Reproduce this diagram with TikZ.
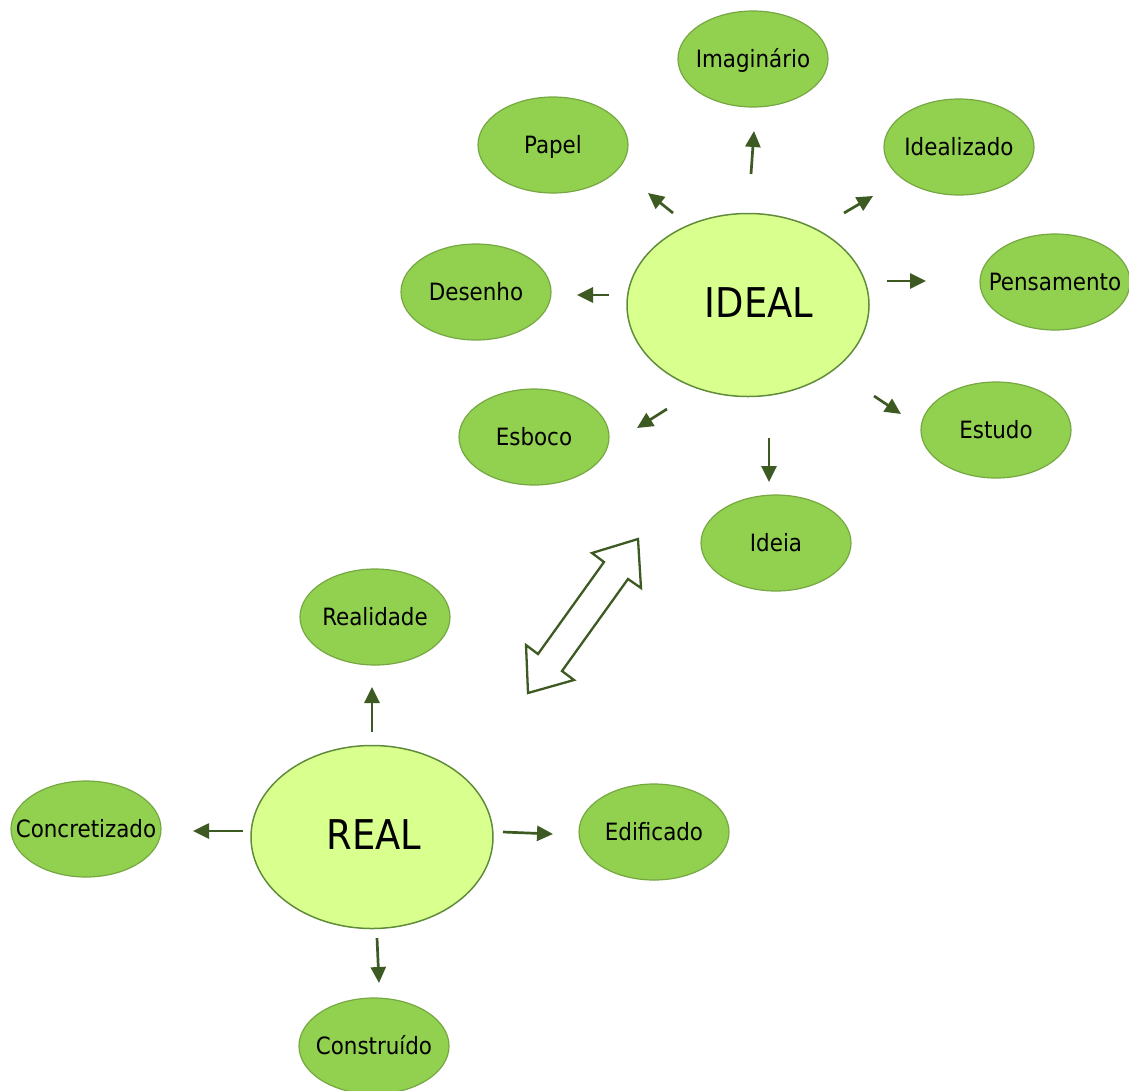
\documentclass[tikz,border=0pt]{standalone}
\usepackage{fontspec}
\newfontfamily\lblfont{DejaVu Sans Condensed}
\usetikzlibrary{shapes.geometric,arrows.meta,calc}
\definecolor{smallfill}{RGB}{146,208,80}
\definecolor{smallborder}{RGB}{118,168,66}
\definecolor{bigfill}{RGB}{217,255,143}
\definecolor{bigborder}{RGB}{96,140,58}
\definecolor{arrowgreen}{RGB}{62,90,35}
\newcommand{\zlbl}[1]{\makebox[0pt]{#1}}
\begin{document}
\begin{tikzpicture}[x=1pt,y=-1pt,
  smallnode/.style={ellipse, draw=smallborder, fill=smallfill, line width=1.2pt,
    minimum width=150pt, minimum height=96pt, inner sep=0pt,
    font=\lblfont\fontsize{23.8}{28}\selectfont, text height=17.3pt, text depth=0pt},
  bignode/.style={ellipse, draw=bigborder, fill=bigfill, line width=1.5pt,
    minimum width=242pt, minimum height=183pt, inner sep=0pt,
    font=\lblfont\fontsize{41}{48}\selectfont, text height=30pt, text depth=6pt},
  arr/.style={draw=arrowgreen, line width=2.7pt, -{Triangle[length=16pt,width=15pt]}},
  blockarrow/.style={draw=arrowgreen, fill=white, line width=2.3pt, line join=miter}
]
\useasboundingbox (0,0) rectangle (1129,1090);

% main nodes
\node[bignode] (ideal) at (748,305) {\zlbl{\hspace{22pt}IDEAL}};
\node[bignode] (real) at (372,837) {\zlbl{\hspace{4pt}REAL}};

% satellites of IDEAL
\node[smallnode] (imag) at (753,59) {\zlbl{Imaginário}};
\node[smallnode] (papel) at (553,145) {\zlbl{Papel}};
\node[smallnode] (idealizado) at (959,147) {\zlbl{Idealizado}};
\node[smallnode] (desenho) at (476,292) {\zlbl{Desenho}};
\node[smallnode] (pensamento) at (1055,282) {\zlbl{Pensamento}};
\node[smallnode] (esboco) at (534,437) {\zlbl{Esboco}};
\node[smallnode] (estudo) at (996,430) {\zlbl{Estudo}};
\node[smallnode] (ideia) at (776,543) {\zlbl{Ideia}};

% satellites of REAL
\node[smallnode] (realidade) at (375,617) {\zlbl{Realidade}};
\node[smallnode] (concretizado) at (86,829) {\zlbl{Concretizado}};
\node[smallnode] (edificado) at (654,832) {\zlbl{Edificado}};
\node[smallnode] (construido) at (374,1046) {\zlbl{Construído}};

% arrows from IDEAL
\draw[arr] ($(ideal.center)+(3,-131)$) -- ($(imag.center)+(1,72)$);
\draw[arr] ($(ideal.center)+(-75,-92)$) -- ($(papel.center)+(95,48)$);
\draw[arr] ($(ideal.center)+(96,-92)$) -- ($(idealizado.center)+(-86,49)$);
\draw[arr] ($(ideal.center)+(-139,-10)$) -- ($(desenho.center)+(101,3)$);
\draw[arr] ($(ideal.center)+(139,-24)$) -- ($(pensamento.center)+(-129,-1)$);
\draw[arr] ($(ideal.center)+(-81,104)$) -- ($(esboco.center)+(103,-9)$);
\draw[arr] ($(ideal.center)+(126,91)$) -- ($(estudo.center)+(-95,-16)$);
\draw[arr] ($(ideal.center)+(21,133)$) -- ($(ideia.center)+(-7,-61)$);

% arrows from REAL
\draw[arr] ($(real.center)+(0,-105)$) -- ($(realidade.center)+(-3,70)$);
\draw[arr] ($(real.center)+(-129,-6)$) -- ($(concretizado.center)+(107,2)$);
\draw[arr] ($(real.center)+(131,-5)$) -- ($(edificado.center)+(-101,2)$);
\draw[arr] ($(real.center)+(5,101)$) -- ($(construido.center)+(5,-63)$);

% double block arrow between REAL and IDEAL
\draw[blockarrow] (638,539) -- (641,588) -- (628,579) -- (562,671) -- (574,680)
  -- (528,693) -- (526,645) -- (538,654) -- (604,562) -- (592,553) -- cycle;
\end{tikzpicture}
\end{document}
